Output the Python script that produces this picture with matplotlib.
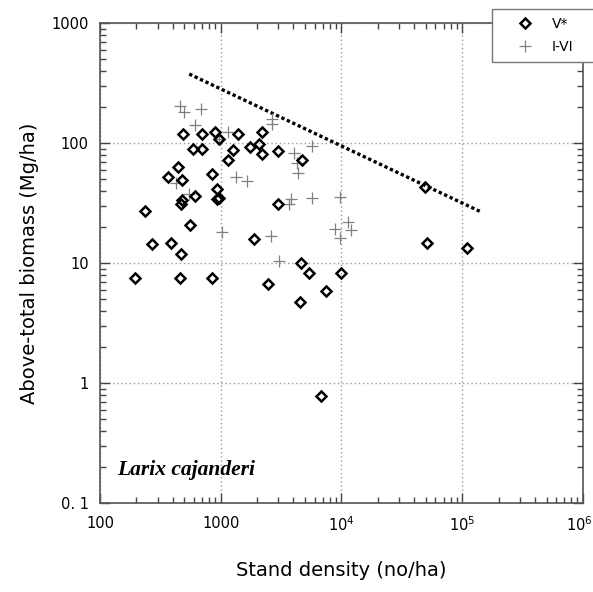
import matplotlib
matplotlib.use('Agg')
import matplotlib.pyplot as plt
import matplotlib.transforms as mtransforms
from matplotlib.ticker import FixedLocator, FixedFormatter, LogLocator, NullFormatter

# V* stands (diamonds)
v_density = [491, 698, 889, 960, 1396, 2208, 2061, 1746, 2208, 2999, 4721,
             594, 706, 1262, 1153, 441, 366, 479, 849, 935, 940, 975, 607,
             482, 468, 235, 561, 2999, 1897, 270, 386, 468, 4657, 5420, 9860,
             194, 458, 840, 2460, 7470, 4510, 6730, 49100, 51000, 110000]
v_biomass = [120, 120, 123, 109, 120, 124, 99, 92, 81, 86, 72,
             89, 90, 87, 72, 63.5, 52, 49, 55, 41, 34.4, 34.8, 36,
             33.5, 30.8, 27.3, 20.9, 31, 16, 14.3, 14.6, 12, 10, 8.25, 8.25,
             7.45, 7.45, 7.45, 6.7, 5.8, 4.7, 0.78, 43, 14.7, 13.3]

# I-VI stands (plus)
p_density = [458, 501, 686, 618, 1148, 960, 2660, 2660, 5720, 4047, 4285,
             4400, 1337, 1660, 425, 548, 3793, 3680, 5720, 9750, 1016, 2612,
             3055, 11220, 8910, 11950, 9810]
p_biomass = [205, 180, 192, 141, 124, 109, 158, 143, 94.4, 83, 67.7,
             55.9, 51.7, 48.5, 46.7, 37.4, 34.1, 30.8, 35, 35.7, 18.2, 16.8,
             10.3, 22, 19.1, 18.8, 16.1]

# upper boundary line
line_density = [548, 145000]
line_biomass = [376, 26.5]

x_ticks = [100, 1000, 1e4, 1e5, 1e6]
x_labels = ['100', '1000', r'$10^4$', r'$10^5$', r'$10^6$']
y_ticks = [0.1, 1, 10, 100, 1000]
y_labels = ['0. 1', '1', '10', '100', '1000']

fig = plt.figure(figsize=(5.93, 5.92), dpi=100)
ax = fig.add_axes([0.1686, 0.1503, 0.8145, 0.8108])
ax.set_xscale('log')
ax.set_yscale('log')
ax.set_xlim(100, 1e6)
ax.set_ylim(0.1, 1000)

ax.grid(True, which='major', linestyle=(0, (1, 2)), color='#999999', lw=1)

ax.plot(line_density, line_biomass, linestyle=(0, (1, 0.8)), color='black', lw=2.4)
ax.plot(p_density, p_biomass, linestyle='none', marker='+', markersize=8,
        markeredgewidth=0.9, color='#808080', label='I-VI')
ax.plot(v_density, v_biomass, linestyle='none', marker='D', markersize=4.8,
        markerfacecolor='none', markeredgecolor='black', markeredgewidth=1.8,
        label='V*')

ax.xaxis.set_major_locator(FixedLocator(x_ticks))
ax.xaxis.set_major_formatter(FixedFormatter(x_labels))
ax.yaxis.set_major_locator(FixedLocator(y_ticks))
ax.yaxis.set_major_formatter(FixedFormatter(y_labels))
ax.xaxis.set_minor_locator(LogLocator(base=10, subs=range(2, 10)))
ax.yaxis.set_minor_locator(LogLocator(base=10, subs=range(2, 10)))
ax.xaxis.set_minor_formatter(NullFormatter())
ax.yaxis.set_minor_formatter(NullFormatter())
ax.tick_params(which='both', direction='in', top=True, right=True,
               color='#444444', labelsize=10.5)
ax.tick_params(which='major', length=7, width=1)
ax.tick_params(which='minor', length=4, width=1)
ax.tick_params(axis='x', pad=9)
ax.tick_params(axis='y', pad=8)
for s in ax.spines.values():
    s.set_color('#555555')
    s.set_linewidth(1.2)

ax.set_xlabel('Stand density (no/ha)', fontsize=14, labelpad=19)
ax.set_ylabel('Above-total biomass (Mg/ha)', fontsize=14, labelpad=9)

ax.text(138, 0.19, 'Larix cajanderi', family='Liberation Serif',
        style='italic', weight='bold', fontsize=15.5, va='center')

# keep the last x label inside the picture
fig.canvas.draw()
last = ax.get_xticklabels()[-1]
last.set_transform(last.get_transform() +
                   mtransforms.ScaledTranslation(-4 / 100, 0, fig.dpi_scale_trans))

handles, labels = ax.get_legend_handles_labels()
leg = fig.legend(handles[::-1], labels[::-1], loc='upper left',
                 bbox_to_anchor=(492 / 593, 1 - 62 / 592, 110 / 593, 53 / 592),
                 mode='expand', fancybox=False, framealpha=1,
                 edgecolor='#777777', fontsize=10, numpoints=1,
                 handlelength=3.5, borderpad=0.6, labelspacing=0.6,
                 handletextpad=0.2, borderaxespad=0)
leg.get_frame().set_linewidth(1)

fig.savefig('out.png', dpi=100)
